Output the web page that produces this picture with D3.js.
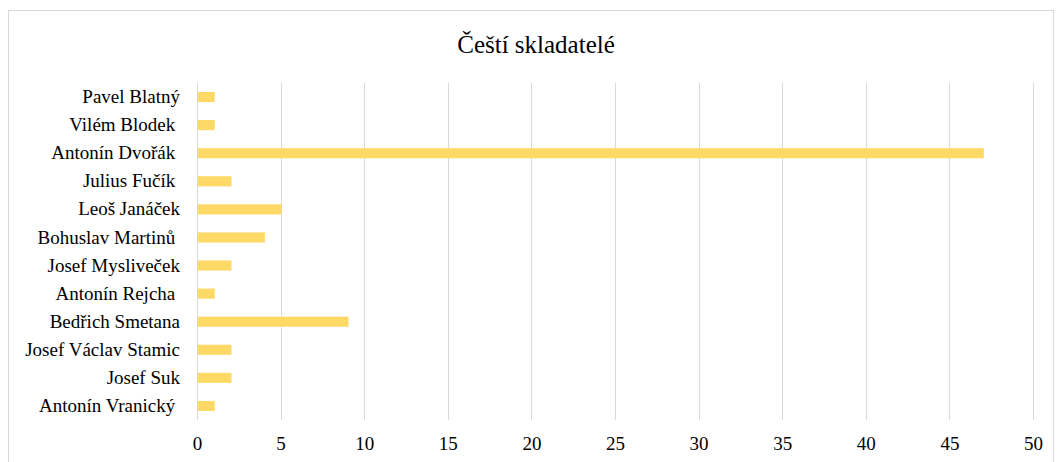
<!DOCTYPE html>
<html>
<head>
<meta charset="utf-8">
<script src="https://d3js.org/d3.v7.min.js"></script>
<style>
  body { margin: 0; background: #fff; }
  text { font-family: "Liberation Serif", "Times New Roman", serif; fill: #000; }
</style>
</head>
<body>
<svg id="chart"></svg>
<script>
// composers and counts, top to bottom
const composers = ['Pavel Blatný', 'Vilém Blodek ', 'Antonín Dvořák ', 'Julius Fučík ', 'Leoš Janáček', 'Bohuslav Martinů ',
  'Josef Mysliveček', 'Antonín Rejcha ', 'Bedřich Smetana', 'Josef Václav Stamic', 'Josef Suk', 'Antonín Vranický '];
const counts = [1, 1, 47, 2, 5, 4, 2, 1, 9, 2, 2, 1];
const xTicks = [0, 5, 10, 15, 20, 25, 30, 35, 40, 45, 50];
const title = 'Čeští skladatelé';

main();

function main() {
  const width = 1057, height = 462;
  const margin = { top: 83, bottom: 42, left: 197, right: 24 };

  const svg = d3.select('#chart')
    .attr('width', width)
    .attr('height', height);

  // chart border
  svg.append('rect')
    .attr('x', 8.5).attr('y', 10.5)
    .attr('width', 1045).attr('height', 460)
    .attr('fill', 'none')
    .attr('stroke', '#d9d9d9');

  const data = composers.map((c, i) => ({ name: c, value: counts[i] }));

  const x = d3.scaleLinear()
    .domain([0, 50])
    .range([margin.left, width - margin.right]);
  const y = d3.scaleBand()
    .domain(composers)
    .range([margin.top, height - margin.bottom])
    .paddingInner(0.64)
    .paddingOuter(0.32);

  // gridlines
  svg.append('g')
    .selectAll('line')
    .data(xTicks)
    .enter()
    .append('line')
    .attr('x1', d => Math.round(x(d)) + 0.5)
    .attr('x2', d => Math.round(x(d)) + 0.5)
    .attr('y1', margin.top)
    .attr('y2', height - margin.bottom)
    .attr('stroke', '#d9d9d9')
    .attr('stroke-width', 1);

  // bars
  svg.append('g')
    .selectAll('.bar')
    .data(data)
    .enter()
    .append('rect')
    .attr('class', 'bar')
    .attr('fill', '#ffd966')
    .attr('x', x(0) + 1)
    .attr('y', d => y(d.name))
    .attr('width', d => x(d.value) - x(0))
    .attr('height', y.bandwidth());

  // x axis labels
  const xAxis = svg.append('g')
    .attr('transform', `translate(0,${height - margin.bottom + 4})`)
    .call(d3.axisBottom(x).tickValues(xTicks).tickSize(0).tickPadding(13));
  xAxis.select('.domain').remove();
  xAxis.selectAll('text')
    .style('font-family', '"Liberation Serif", serif')
    .style('font-size', '19px')
    .attr('fill', '#000');

  // y axis labels
  const yAxis = svg.append('g')
    .attr('transform', `translate(${margin.left - 17},0)`)
    .call(d3.axisLeft(y).tickSize(0).tickPadding(0));
  yAxis.select('.domain').remove();
  yAxis.selectAll('text')
    .style('font-family', '"Liberation Serif", serif')
    .style('font-size', '19px')
    .style('white-space', 'pre')
    .attr('fill', '#000');

  svg.append('text')
    .attr('x', 536)
    .attr('y', 53)
    .attr('text-anchor', 'middle')
    .style('font-size', '25px')
    .text(title);
}
</script>
</body>
</html>
